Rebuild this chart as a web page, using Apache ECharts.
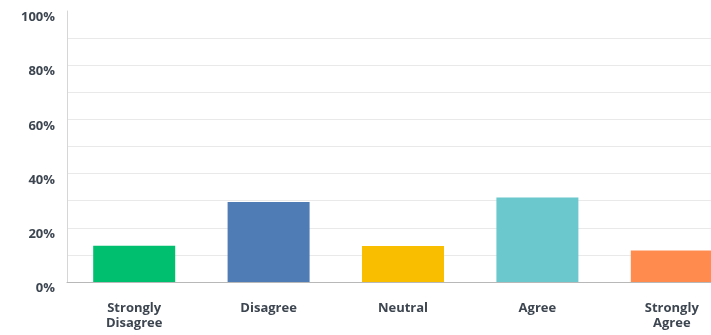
<!DOCTYPE html>
<html>
<head>
<meta charset="utf-8">
<script src="https://cdn.jsdelivr.net/npm/echarts@6/dist/echarts.min.js"></script>
<style>
  html, body { margin: 0; padding: 0; background: #fff; overflow: hidden; }
  /* the chart is wider than the page, so the last column is cut off at the right edge */
  #chart { width: 740px; height: 335px; }
</style>
</head>
<body>
<div id="chart"></div>
<script>
// Likert response categories and their share of respondents (%)
const categories = ['Strongly\nDisagree', 'Disagree', 'Neutral', 'Agree', 'Strongly\nAgree'];
const shares = [13.4, 29.5, 13.3, 31.2, 11.6];
const barColors = ['#00bf6f', '#507cb6', '#f9be00', '#6bc8cd', '#ff8b4f'];
const yTicks = [0, 20, 40, 60, 80, 100];

const chart = echarts.init(document.getElementById('chart'), null, { renderer: 'canvas' });

const textColor = '#3d4650';
const fontFamily = '"Open Sans", Roboto, sans-serif';

chart.setOption({
  animation: false,
  backgroundColor: '#ffffff',
  grid: { left: 67, right: 1, top: 11, bottom: 53, containLabel: false },
  xAxis: {
    type: 'category',
    data: categories,
    axisLine: { show: true, lineStyle: { color: '#b8b8b8', width: 1 } },
    axisTick: { show: false },
    axisLabel: {
      color: textColor,
      fontFamily: fontFamily,
      fontWeight: 'bold',
      fontSize: 13,
      lineHeight: 15,
      margin: 19,
      interval: 0
    }
  },
  yAxis: {
    type: 'value',
    min: 0,
    max: 100,
    interval: 10,
    axisLine: { show: true, lineStyle: { color: '#d6d6d6', width: 1 } },
    axisTick: { show: false },
    splitLine: {
      show: true,
      showMaxLine: false,
      lineStyle: { color: '#e9e9e9', width: 1 }
    },
    axisLabel: {
      color: textColor,
      fontFamily: fontFamily,
      fontWeight: 'bold',
      fontSize: 13,
      margin: 12,
      verticalAlign: 'top',
      padding: [0, 0, 0, 0],
      formatter: function (v) {
        return yTicks.indexOf(v) >= 0 ? v + '%' : '';
      }
    }
  },
  series: [{
    type: 'bar',
    barWidth: 82,
    data: shares.map(function (v, i) {
      return { value: v, itemStyle: { color: barColors[i] } };
    })
  }]
});
</script>
</body>
</html>
